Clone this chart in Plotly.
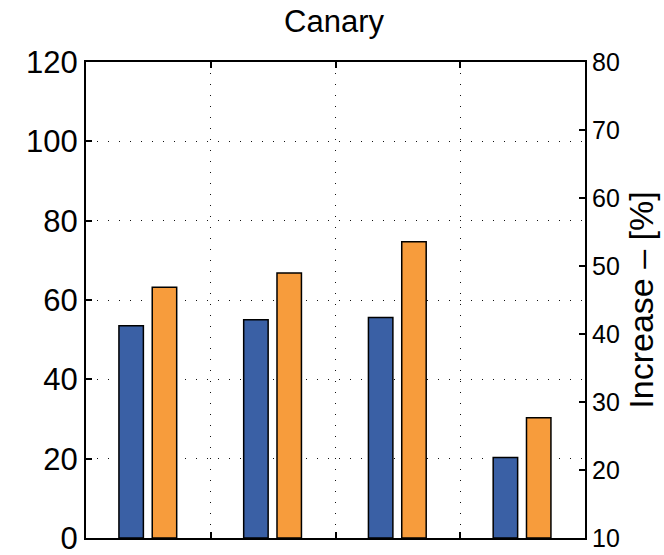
import plotly.graph_objects as go

# Four groups of paired bars (values on the left axis scale)
groups = [1, 2, 3, 4]
blue_values = [53.5, 55.0, 55.6, 20.3]
orange_values = [63.2, 66.8, 74.7, 30.3]

left_ticks = [0, 20, 40, 60, 80, 100, 120]
right_ticks = [10, 20, 30, 40, 50, 60, 70, 80]
divider_ticks = [1.5, 2.5, 3.5]

BLUE = "#3A60A5"
ORANGE = "#F79C3C"
FONT = "Liberation Sans, Arial, sans-serif"
GRID_DASH = "1px,10px"

fig = go.Figure()
fig.add_trace(go.Bar(
    x=groups, y=blue_values, width=0.196, offset=-0.236,
    marker=dict(color=BLUE, line=dict(color="black", width=1.5)),
    showlegend=False,
))
fig.add_trace(go.Bar(
    x=groups, y=orange_values, width=0.196, offset=0.031,
    marker=dict(color=ORANGE, line=dict(color="black", width=1.5)),
    showlegend=False,
))
# empty trace so the right-hand percentage axis is drawn
fig.add_trace(go.Scatter(
    x=[None], y=[None], yaxis="y2", mode="markers",
    showlegend=False, hoverinfo="skip",
))

fig.update_layout(
    width=664, height=555,
    margin=dict(l=86, r=79, t=62, b=17, autoexpand=False),
    paper_bgcolor="white", plot_bgcolor="white",
    barmode="overlay",
    font=dict(family=FONT, color="black"),
    title=dict(text="Canary", x=0.503, xanchor="center", y=0.982, yanchor="top",
               font=dict(size=31, family=FONT, color="black")),
    xaxis=dict(
        range=[0.5, 4.5], tickvals=divider_ticks, showticklabels=False,
        ticks="inside", ticklen=6, tickwidth=1.5, tickcolor="black",
        showline=True, linecolor="black", linewidth=2, mirror="ticks",
        showgrid=True, gridcolor="#111", gridwidth=1.2, griddash=GRID_DASH,
        zeroline=False, automargin=False,
    ),
    yaxis=dict(
        range=[0, 120], tickvals=left_ticks,
        ticks="inside", ticklen=6, tickwidth=1.5, tickcolor="black",
        showline=True, linecolor="black", linewidth=2, mirror=True,
        showgrid=True, gridcolor="#111", gridwidth=1.2, griddash=GRID_DASH,
        zeroline=False, automargin=False, ticklabeloverflow="allow",
        tickfont=dict(size=31, family=FONT, color="black"),
    ),
    yaxis2=dict(
        overlaying="y", side="right", anchor="x",
        range=[10, 80], tickvals=right_ticks,
        ticks="inside", ticklen=6, tickwidth=1.5, tickcolor="black",
        showline=True, linecolor="black", linewidth=2,
        showgrid=False, zeroline=False, automargin=False,
        ticklabeloverflow="allow",
        tickfont=dict(size=25, family=FONT, color="black"),
        title=dict(text="Increase – [%]", standoff=10,
                   font=dict(size=34, family=FONT, color="black")),
    ),
)

fig.write_html("out.html")
